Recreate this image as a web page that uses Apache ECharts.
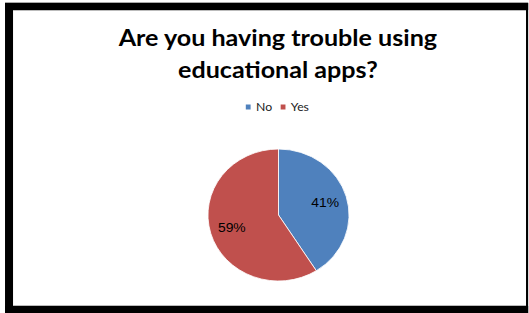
<!DOCTYPE html>
<html>
<head>
<meta charset="utf-8">
<script src="https://cdn.jsdelivr.net/npm/echarts@6/dist/echarts.min.js"></script>
<style>
  html, body { margin: 0; padding: 0; background: #fff; overflow: hidden; }
  /* the original picture is a bit stretched sideways, so draw narrower and scale x */
  #chart { width: 495px; height: 313px; transform: scaleX(1.0687); transform-origin: 0 0; }
</style>
</head>
<body>
<div id="chart"></div>
<script>
// chart data
var categories = ["No", "Yes"];
var percents = [41, 59];
var colors = ["#4F81BD", "#C0504D"];

var chartTitle = "Are you having trouble using\neducational apps?";

var pieData = categories.map(function (name, i) {
  return { name: name, value: percents[i], itemStyle: { color: colors[i] } };
});

var myChart = echarts.init(document.getElementById("chart"), null, { renderer: "svg" });

var option = {
  backgroundColor: "#fff",
  animation: false,
  title: {
    text: chartTitle,
    left: 255,
    top: 16,
    textAlign: "center",
    textStyle: {
      fontFamily: "Lato",
      fontWeight: "bold",
      fontSize: 23.5,
      lineHeight: 32,
      color: "#000"
    }
  },
  legend: {
    data: categories,
    left: 223,
    top: 96,
    itemWidth: 6.5,
    itemHeight: 7,
    itemGap: 6,
    icon: "rect",
    textStyle: {
      fontFamily: "Lato",
      fontSize: 11.5,
      color: "#222",
      padding: [0, 0, 0, -1]
    }
  },
  // frame around the chart
  graphic: [
    { type: "rect", shape: { x: 4.7, y: 2, width: 489.5, height: 1 }, style: { fill: "#aaa" } },
    { type: "rect", shape: { x: 4.7, y: 3, width: 489.5, height: 7 }, style: { fill: "#000" } },
    { type: "rect", shape: { x: 4.7, y: 3, width: 7.5, height: 310 }, style: { fill: "#000" } },
    { type: "rect", shape: { x: 492.2, y: 3, width: 2, height: 310 }, style: { fill: "#000" } },
    { type: "rect", shape: { x: 4.7, y: 306, width: 489.5, height: 7 }, style: { fill: "#000" } },
    { type: "rect", shape: { x: 12.2, y: 10, width: 480, height: 1 }, style: { fill: "#bbb" } },
    { type: "rect", shape: { x: 12.2, y: 305, width: 480, height: 1 }, style: { fill: "#bbb" } }
  ],
  series: [
    {
      name: "trouble",
      type: "pie",
      center: [260.6, 215],
      radius: [0, 66],
      startAngle: 90,
      clockwise: true,
      label: { show: false },
      labelLine: { show: false },
      itemStyle: { borderColor: "#fff", borderWidth: 0.8 },
      data: pieData
    },
    {
      // transparent ring only used to place the percentage labels
      name: "labels",
      type: "pie",
      silent: true,
      center: [260.6, 215],
      radius: [19, 66],
      startAngle: 90,
      clockwise: true,
      itemStyle: { color: "transparent" },
      label: {
        show: true,
        position: "inside",
        formatter: "{c}%",
        fontFamily: "Liberation Sans",
        fontSize: 13,
        color: "#000"
      },
      labelLine: { show: false },
      data: categories.map(function (name, i) {
        return { name: name, value: percents[i] };
      })
    }
  ]
};

myChart.setOption(option);
</script>
</body>
</html>
